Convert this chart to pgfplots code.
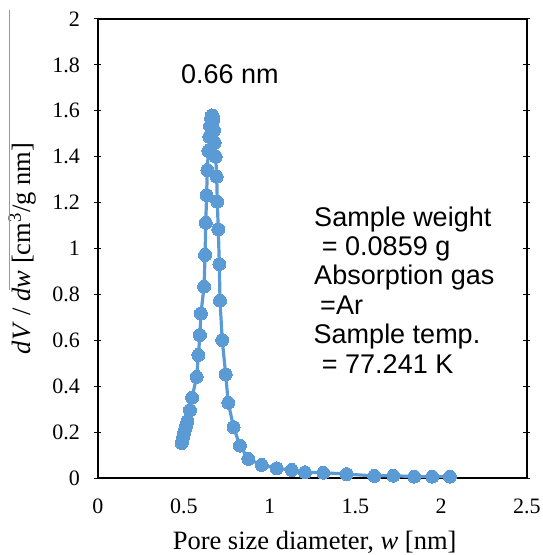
\documentclass[border=0pt]{standalone}
\usepackage{fontspec}
\setmainfont{Liberation Serif}
\newfontfamily\sansf{Liberation Sans}
\usepackage{pgfplots}
\pgfplotsset{compat=1.18}
\definecolor{xlblue}{HTML}{5B9BD5}

\begin{document}
\begin{tikzpicture}
\begin{axis}[
    at={(0pt,0pt)}, anchor=south west,
    scale only axis,
    width=429pt, height=459pt,
    xmin=0, xmax=2.5,
    ymin=0, ymax=2,
    xtick={0,0.5,1,1.5,2,2.5},
    ytick={0,0.2,0.4,0.6,0.8,1,1.2,1.4,1.6,1.8,2},
    axis line style={black, line width=1.5pt},
    tick style={black, line width=1pt},
    tick align=center,
    major tick length=7pt,
    xtick style={draw=none},
    /pgf/number format/assume math mode=true,
    /pgf/number format/fixed,
    tick label style={font=\fontsize{22}{26}\selectfont},
    yticklabel style={xshift=-11pt},
    xticklabel style={yshift=-14pt},
    xlabel={Pore size diameter, \textit{w} [nm]},
    ylabel={\textit{dV} / \textit{dw} [cm\textsuperscript{3}/g nm]},
    label style={font=\fontsize{26.5}{30}\selectfont},
    xlabel style={at={(axis description cs:0.505,-0.1547)}, anchor=base},
    ylabel style={at={(axis description cs:-0.1585,0.5)}, anchor=base},
]

\addplot[
    color=xlblue,
    line width=3.2pt,
    mark=*,
    mark size=6.5pt,
    mark options={fill=xlblue, draw=xlblue, line width=0pt},
    ]
    coordinates {
    (0.488,0.152)(0.492,0.165)(0.496,0.178)(0.500,0.190)(0.505,0.204)
    (0.510,0.218)(0.515,0.232)(0.521,0.248)(0.536,0.296)(0.548,0.350)
    (0.575,0.441)(0.585,0.536)(0.594,0.623)(0.600,0.717)(0.618,0.834)
    (0.624,0.972)(0.628,1.112)(0.633,1.233)(0.637,1.342)(0.643,1.425)
    (0.649,1.487)(0.653,1.534)(0.659,1.566)(0.664,1.580)(0.668,1.578)
    (0.671,1.560)(0.676,1.516)(0.680,1.461)(0.686,1.400)(0.692,1.313)
    (0.695,1.204)(0.701,1.084)(0.707,0.932)(0.711,0.773)(0.724,0.601)
    (0.744,0.452)(0.759,0.328)(0.790,0.222)(0.827,0.141)(0.876,0.083)
    (0.954,0.057)(1.041,0.042)(1.129,0.035)(1.206,0.025)(1.313,0.023)
    (1.449,0.017)(1.610,0.009)(1.721,0.010)(1.843,0.006)(1.948,0.006)
    (2.051,0.006)
    };

% annotations
\node[anchor=base, font=\sansf\fontsize{27}{30}\selectfont] at (axis cs:0.769,1.719) {0.66 nm};
\begin{scope}[every node/.style={anchor=base west, inner sep=0pt, font=\sansf\fontsize{27}{30}\selectfont}]
\node at (axis cs:1.259,1.098) {Sample weight};
\node at (axis cs:1.304,0.969) {= 0.0859 g};
\node at (axis cs:1.259,0.841) {Absorption gas};
\node at (axis cs:1.294,0.712) {=Ar};
\node at (axis cs:1.256,0.584) {Sample temp.};
\node at (axis cs:1.304,0.455) {= 77.241 K};
\end{scope}
\end{axis}

\draw[gray!80, line width=1pt] (-88pt,468pt) -- (-88pt,188pt);

\pgfresetboundingbox
\useasboundingbox (-98pt,-77pt) rectangle (445pt,478pt);
\end{tikzpicture}
\end{document}
